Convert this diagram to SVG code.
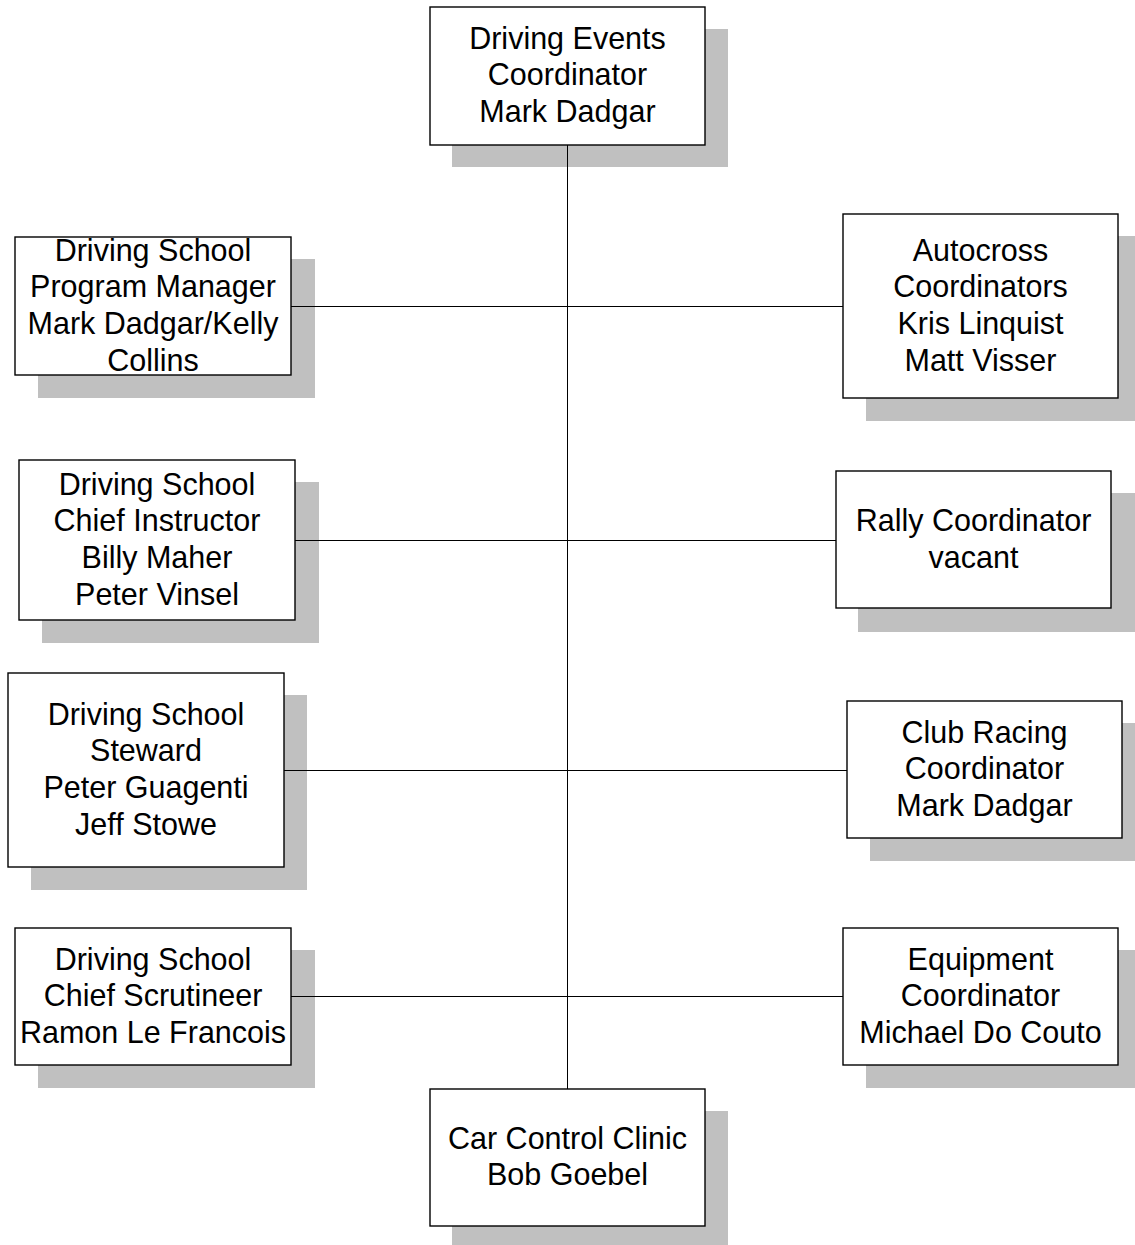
<svg xmlns="http://www.w3.org/2000/svg" width="1135" height="1245" viewBox="0 0 1135 1245">
<style>
.sh{fill:#c0c0c0;stroke:none}
.bx{fill:#ffffff;stroke:#000000;stroke-width:1.4}
.t{font-family:"Liberation Sans",Arial,sans-serif;font-size:30.5px;fill:#000000;text-anchor:middle}
.c{stroke:#000000;stroke-width:1;fill:none}
</style>
<rect width="1135" height="1245" fill="#ffffff"/>
<g id="n-top">
<rect class="sh" x="452" y="29" width="276" height="138"/>
<rect class="bx" x="430" y="7" width="275" height="138"/>
<text class="t" x="567.5" y="48.5">Driving Events</text>
<text class="t" x="567.5" y="85.2">Coordinator</text>
<text class="t" x="567.5" y="121.9">Mark Dadgar</text>
</g>
<g id="n-dspm">
<rect class="sh" x="38" y="259" width="277" height="139"/>
<rect class="bx" x="15" y="237" width="276" height="138"/>
<text class="t" x="153" y="260.5">Driving School</text>
<text class="t" x="153" y="297.2">Program Manager</text>
<text class="t" x="153" y="333.9">Mark Dadgar/Kelly</text>
<text class="t" x="153" y="370.6">Collins</text>
</g>
<g id="n-auto">
<rect class="sh" x="866" y="236" width="269" height="185"/>
<rect class="bx" x="843" y="214" width="275" height="184"/>
<text class="t" x="980.5" y="260.5">Autocross</text>
<text class="t" x="980.5" y="297.2">Coordinators</text>
<text class="t" x="980.5" y="333.9">Kris Linquist</text>
<text class="t" x="980.5" y="370.6">Matt Visser</text>
</g>
<g id="n-dsci">
<rect class="sh" x="42" y="482" width="277" height="161"/>
<rect class="bx" x="19" y="460" width="276" height="160"/>
<text class="t" x="157" y="494.5">Driving School</text>
<text class="t" x="157" y="531.2">Chief Instructor</text>
<text class="t" x="157" y="567.9">Billy Maher</text>
<text class="t" x="157" y="604.6">Peter Vinsel</text>
</g>
<g id="n-rally">
<rect class="sh" x="858" y="493" width="277" height="139"/>
<rect class="bx" x="836" y="471" width="275" height="137"/>
<text class="t" x="973.5" y="531">Rally Coordinator</text>
<text class="t" x="973.5" y="567.7">vacant</text>
</g>
<g id="n-dss">
<rect class="sh" x="31" y="695" width="276" height="195"/>
<rect class="bx" x="8" y="673" width="276" height="194"/>
<text class="t" x="146" y="724.5">Driving School</text>
<text class="t" x="146" y="761.2">Steward</text>
<text class="t" x="146" y="797.9">Peter Guagenti</text>
<text class="t" x="146" y="834.6">Jeff Stowe</text>
</g>
<g id="n-club">
<rect class="sh" x="870" y="723" width="265" height="138"/>
<rect class="bx" x="847" y="701" width="275" height="137"/>
<text class="t" x="984.5" y="742.5">Club Racing</text>
<text class="t" x="984.5" y="779.2">Coordinator</text>
<text class="t" x="984.5" y="815.9">Mark Dadgar</text>
</g>
<g id="n-dscs">
<rect class="sh" x="38" y="950" width="277" height="138"/>
<rect class="bx" x="15" y="928" width="276" height="137"/>
<text class="t" x="153" y="969.5">Driving School</text>
<text class="t" x="153" y="1006.2">Chief Scrutineer</text>
<text class="t" x="153" y="1042.9">Ramon Le Francois</text>
</g>
<g id="n-equip">
<rect class="sh" x="866" y="950" width="269" height="138"/>
<rect class="bx" x="843" y="928" width="275" height="137"/>
<text class="t" x="980.5" y="969.5">Equipment</text>
<text class="t" x="980.5" y="1006.2">Coordinator</text>
<text class="t" x="980.5" y="1042.9">Michael Do Couto</text>
</g>
<g id="n-ccc">
<rect class="sh" x="452" y="1111" width="276" height="134"/>
<rect class="bx" x="430" y="1089" width="275" height="137"/>
<text class="t" x="567.5" y="1148.5">Car Control Clinic</text>
<text class="t" x="567.5" y="1185.2">Bob Goebel</text>
</g>
<g id="connectors">
<line class="c" x1="567.5" y1="145" x2="567.5" y2="1089"/>
<line class="c" x1="291" y1="306.5" x2="843" y2="306.5"/>
<line class="c" x1="295" y1="540.5" x2="836" y2="540.5"/>
<line class="c" x1="284" y1="770.5" x2="847" y2="770.5"/>
<line class="c" x1="291" y1="996.5" x2="843" y2="996.5"/>
</g>
</svg>
